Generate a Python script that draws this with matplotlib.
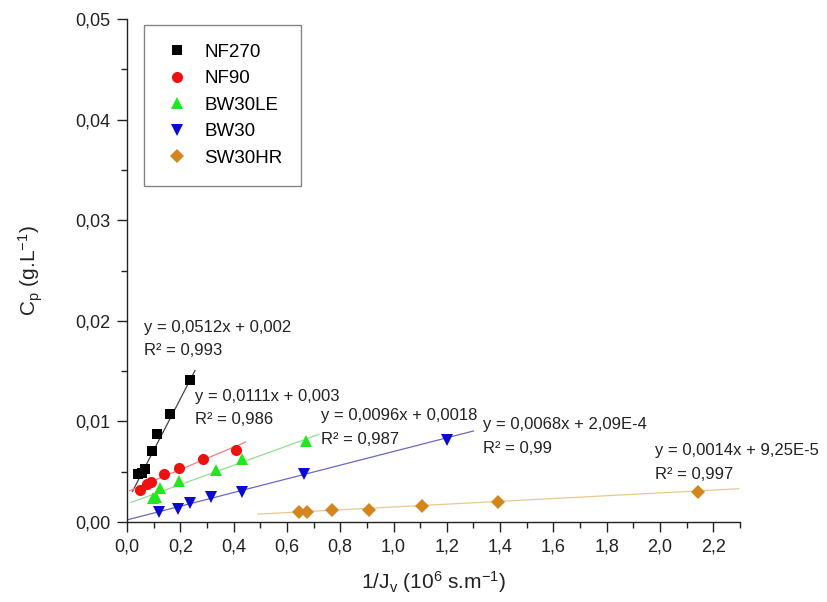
import numpy as np
import matplotlib
matplotlib.use('Agg')
import matplotlib.pyplot as plt
from matplotlib.ticker import MultipleLocator, FuncFormatter

plt.rcParams['font.family'] = ['Liberation Sans', 'DejaVu Sans']
plt.rcParams['mathtext.fontset'] = 'custom'
plt.rcParams['mathtext.rm'] = 'Liberation Sans'
plt.rcParams['mathtext.it'] = 'Liberation Sans'

# data (1/Jv in 10^6 s/m, Cp in g/L)
names = ['NF270', 'NF90', 'BW30LE', 'BW30', 'SW30HR']

nf270_x = [0.042, 0.057, 0.069, 0.093, 0.114, 0.162, 0.235]
nf270_y = [0.0048, 0.0049, 0.0053, 0.0071, 0.0087, 0.0107, 0.0141]

nf90_x = [0.049, 0.074, 0.089, 0.139, 0.196, 0.285, 0.408]
nf90_y = [0.0032, 0.0038, 0.0040, 0.0048, 0.0054, 0.0063, 0.0072]

bw30le_x = [0.096, 0.108, 0.124, 0.195, 0.333, 0.430, 0.670]
bw30le_y = [0.0024, 0.0025, 0.0034, 0.0041, 0.0052, 0.0063, 0.0081]

bw30_x = [0.120, 0.193, 0.236, 0.315, 0.432, 0.665, 1.200]
bw30_y = [0.0010, 0.0013, 0.0019, 0.0025, 0.0030, 0.0048, 0.0082]

sw30hr_x = [0.645, 0.674, 0.770, 0.907, 1.108, 1.391, 2.141]
sw30hr_y = [0.0010, 0.0010, 0.0012, 0.0012, 0.0016, 0.0020, 0.0030]

# linear fits shown on the chart
slopes = [0.0512, 0.0111, 0.0096, 0.0068, 0.0014]
intercepts = [0.002, 0.003, 0.0018, 2.09e-4, 9.25e-5]
fit_start = [0.02, 0.01, 0.015, 0.0, 0.49]
fit_end = [0.255, 0.445, 0.72, 1.30, 2.295]
eq_labels = ['y = 0,0512x + 0,002', 'y = 0,0111x + 0,003', 'y = 0,0096x + 0,0018',
             'y = 0,0068x + 2,09E-4', 'y = 0,0014x + 9,25E-5']
r2_labels = ['R² = 0,993', 'R² = 0,986', 'R² = 0,987', 'R² = 0,99', 'R² = 0,997']

xs = [nf270_x, nf90_x, bw30le_x, bw30_x, sw30hr_x]
ys = [nf270_y, nf90_y, bw30le_y, bw30_y, sw30hr_y]
markers = ['s', 'o', '^', 'v', 'D']
msizes = [7, 8, 8.5, 8.5, 7.5]
colors = ['#000000', '#ee1111', '#22e622', '#0a0ad0', '#d4861e']
line_colors = ['#444444', '#f08080', '#90e090', '#6a6ac0', '#e8c890']
eq_pos = [(0.064, 0.0182), (0.255, 0.01135), (0.727, 0.0094), (1.335, 0.0085), (1.981, 0.0059)]

fig = plt.figure(figsize=(8.27, 6.02), dpi=100)
ax = fig.add_axes([0.1536, 0.1329, 0.7412, 0.8355])

for i in range(len(names)):
    xf = np.array([fit_start[i], fit_end[i]])
    ax.plot(xf, slopes[i] * xf + intercepts[i], color=line_colors[i], lw=0.9, zorder=2)
    ax.plot(xs[i], ys[i], linestyle='none', marker=markers[i], ms=msizes[i],
            color=colors[i], markeredgewidth=0, label=names[i], zorder=3)
    ax.text(eq_pos[i][0], eq_pos[i][1], eq_labels[i] + '\n' + r2_labels[i],
            fontsize=12, color='#222222', va='center', ha='left',
            linespacing=1.7, zorder=4)

ax.set_xlim(0, 2.3)
ax.set_ylim(0, 0.05)
ax.xaxis.set_major_locator(MultipleLocator(0.2))
ax.xaxis.set_minor_locator(MultipleLocator(0.1))
ax.yaxis.set_major_locator(MultipleLocator(0.01))
ax.yaxis.set_minor_locator(MultipleLocator(0.005))
ax.xaxis.set_major_formatter(FuncFormatter(lambda v, p: f'{v:.1f}'.replace('.', ',')))
ax.yaxis.set_major_formatter(FuncFormatter(lambda v, p: f'{v:.2f}'.replace('.', ',')))

for s in ['top', 'right']:
    ax.spines[s].set_visible(False)
for s in ['left', 'bottom']:
    ax.spines[s].set_linewidth(1.0)
    ax.spines[s].set_color('#222222')
ax.tick_params(which='major', direction='out', length=7, width=1, labelsize=13,
               colors='#222222', pad=5)
ax.tick_params(which='minor', direction='out', length=4, width=1, colors='#222222')

ax.set_xlabel(r'1/J$_\mathregular{v}$ (10$^\mathregular{6}$ s.m$^\mathregular{-1}$)',
              fontsize=15, color='#222222', labelpad=10)
ax.set_ylabel(r'C$_\mathregular{p}$ (g.L$^\mathregular{-1}$)',
              fontsize=15, color='#222222', labelpad=22)

leg = ax.legend(loc='upper left', bbox_to_anchor=(0.028, 0.988), fontsize=13.5,
                frameon=True, fancybox=False, edgecolor='#666666',
                borderpad=1.0, labelspacing=0.5, handletextpad=0.7,
                handlelength=1.5, borderaxespad=0)
leg.get_frame().set_linewidth(1.0)

fig.savefig('out.png', dpi=100)
